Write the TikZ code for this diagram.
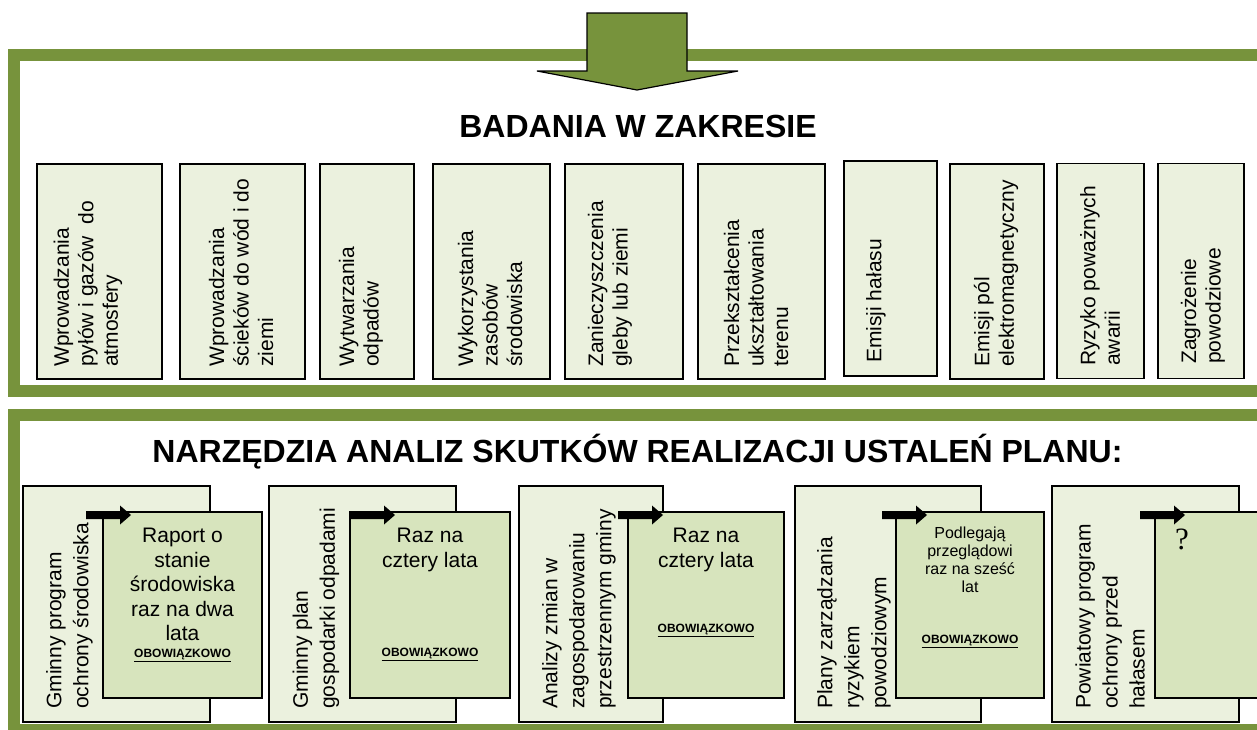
\documentclass[tikz,border=0pt]{standalone}
\usepackage{fontspec}
\setmainfont{Liberation Sans}
\newfontfamily\qmark{Liberation Serif}
\definecolor{leaf}{HTML}{77933C}
\definecolor{paleleaf}{HTML}{EBF1DE}
\definecolor{midleaf}{HTML}{D7E4BD}
\newcommand{\must}{\underline{OBOWIĄZKOWO}}
\newcommand{\blkarrow}[1]{\fill #1 ++(0,-4) -- ++(34,0) -- ++(0,-5.5) -- ++(11,9.5) -- ++(-11,9.5) -- ++(0,-5.5) -- ++(-34,0) -- cycle;}
\tikzstyle{border}=[draw=leaf, line width=12pt]
\tikzstyle{bigarrow}=[draw=black, fill=leaf, line width=1.2pt]
\tikzstyle{heading}=[anchor=base, inner sep=0pt, font=\fontsize{32}{38}\selectfont\bfseries]
\tikzstyle{topbox}=[rectangle, draw, line width=1.3pt, fill=paleleaf, inner sep=0pt, minimum height=215pt]
\tikzstyle{vt}=[rotate=90, anchor=west, align=left, inner sep=0pt, font=\fontsize{21}{24.5}\selectfont]
\tikzstyle{tool}=[rectangle, draw, line width=1.3pt, fill=paleleaf, inner sep=0pt, minimum height=236pt]
\tikzstyle{sub}=[rectangle, draw, line width=1.3pt, fill=midleaf, inner sep=0pt, minimum height=186pt]
\tikzstyle{lt}=[rotate=90, anchor=west, align=left, inner sep=0pt, font=\fontsize{21}{27}\selectfont]
\tikzstyle{st}=[anchor=north, align=center, inner sep=0pt, font=\fontsize{21}{24.5}\selectfont]
\tikzstyle{ob}=[anchor=base, inner sep=0pt, font=\fontsize{12}{14}\selectfont\bfseries]

\begin{document}
\begin{tikzpicture}[x=1pt,y=-1pt]
				\useasboundingbox (0,0) rectangle (1257,729);
				\clip (0,0) rectangle (1257,729);

				%The frames
				\draw[border] (14,55) rectangle (1270,391);
				\draw[border] (14,415) rectangle (1270,730);

				%The arrow on top
				\draw[bigarrow] (587,13) -- (687,13) -- (687,71) -- (738,71) -- (637,90) -- (537,71) -- (587,71) -- cycle;

				%The headings
				\draw (638,137) node[heading] (h1) {BADANIA W ZAKRESIE};
				\draw (637.5,462) node[heading] (h2) {NARZĘDZIA ANALIZ SKUTKÓW REALIZACJI USTALEŃ PLANU:};

				%The top boxes
				\draw (99.5,271.5) node[topbox, minimum width=125pt] (b1) {};
				\draw (242.5,271.5) node[topbox, minimum width=125pt] (b2) {};
				\draw (367,271.5) node[topbox, minimum width=94pt] (b3) {};
				\draw (491.5,271.5) node[topbox, minimum width=117pt] (b4) {};
				\draw (624,271.5) node[topbox, minimum width=118pt] (b5) {};
				\draw (761.5,271.5) node[topbox, minimum width=127pt] (b6) {};
				\draw (890.5,268.5) node[topbox, minimum width=93pt] (b7) {};
				\draw (997,271.5) node[topbox, minimum width=94pt] (b8) {};
				\draw (1100.5,271) node[topbox, minimum width=87pt] (b9) {};
				\draw (1201,271) node[topbox, minimum width=86pt] (b10) {};

				%The texts of the top boxes
				\draw (88,367) node[vt] (t1) {Wprowadzania\\pyłów i gazów~ do\\atmosfery};
				\draw (241,367) node[vt] (t2) {Wprowadzania\\ścieków do wód i do\\ziemi};
				\draw (361,367) node[vt] (t3) {Wytwarzania\\odpadów};
				\draw (490,367) node[vt] (t4) {Wykorzystania\\zasobów\\środowiska};
				\draw (610,367) node[vt] (t5) {Zanieczyszczenia\\gleby lub ziemi};
				\draw (756,367) node[vt] (t6) {Przekształcenia\\ukształtowania\\terenu};
				\draw (876,363) node[vt] (t7) {Emisji hałasu};
				\draw (996,367) node[vt] (t8) {Emisji pól\\elektromagnetyczny};
				\draw (1100,366) node[vt] (t9) {Ryzyko poważnych\\awarii};
				\draw (1203,364) node[vt] (t10) {Zagrożenie\\powodziowe};

				%The first tool
				\draw (116.5,604) node[tool, minimum width=187pt] (o1) {};
				\draw (69.5,709) node[lt] (l1) {Gminny program\\ochrony środowiska};
				\draw (182.5,605) node[sub, minimum width=159pt] (i1) {};
				\coordinate (a1) at (86,515);
				\blkarrow{(a1)}
				\draw (182.5,528) node[st] (s1) {Raport o\\stanie\\środowiska\\raz na dwa\\lata};
				\draw (182.5,657) node[ob] (m1) {\must};

				%The second tool
				\draw (362.5,604) node[tool, minimum width=187pt] (o2) {};
				\draw (316,709) node[lt] (l2) {Gminny plan\\gospodarki odpadami};
				\draw (430,605) node[sub, minimum width=160pt] (i2) {};
				\coordinate (a2) at (350,515);
				\blkarrow{(a2)}
				\draw (430,528) node[st] (s2) {Raz na\\cztery lata};
				\draw (430,656) node[ob] (m2) {\must};

				%The third tool
				\draw (591,604) node[tool, minimum width=144pt] (o3) {};
				\draw (579,709) node[lt] (l3) {Analizy zmian w\\zagospodarowaniu\\przestrzennym gminy};
				\draw (706,605) node[sub, minimum width=156pt] (i3) {};
				\coordinate (a3) at (618,515);
				\blkarrow{(a3)}
				\draw (706,528) node[st] (s3) {Raz na\\cztery lata};
				\draw (706,632) node[ob] (m3) {\must};

				%The fourth tool
				\draw (888,604) node[tool, minimum width=186pt] (o4) {};
				\draw (854,709) node[lt] (l4) {Plany zarządzania\\ryzykiem\\powodziowym};
				\draw (970,605) node[sub, minimum width=148pt] (i4) {};
				\coordinate (a4) at (882,515);
				\blkarrow{(a4)}
				\draw (970,527) node[st, font=\fontsize{16}{18}\selectfont] (s4) {Podlegają\\przeglądowi\\raz na sześć\\lat};
				\draw (970,643) node[ob] (m4) {\must};

				%The fifth tool
				\draw (1145.5,604) node[tool, minimum width=187pt] (o5) {};
				\draw (1110,709) node[lt] (l5) {Powiatowy program\\ochrony przed\\hałasem};
				\draw (1230,605) node[sub, minimum width=150pt] (i5) {};
				\coordinate (a5) at (1140,515);
				\blkarrow{(a5)}
				\draw (1182,529) node[anchor=north, inner sep=0pt, font=\qmark\fontsize{31}{36}\selectfont] (q5) {?};
			\end{tikzpicture}
\end{document}
